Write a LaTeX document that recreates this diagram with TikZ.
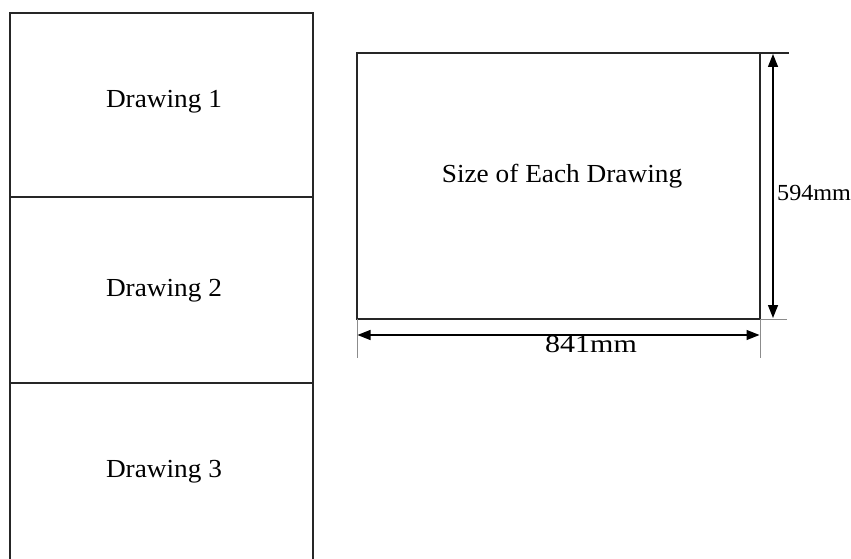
\documentclass[tikz,border=0pt]{standalone}
\usepackage{fontspec}
\setmainfont{Liberation Serif}
\usetikzlibrary{arrows.meta}
\begin{document}
\begin{tikzpicture}[x=1pt,y=1pt,
  frame/.style={draw=black!85,line width=1.4pt},
  extline/.style={draw=black!45,line width=1pt},
  dimarrow/.style={draw=black,line width=1.4pt,{Triangle[length=13pt,width=10pt]}-{Triangle[length=13pt,width=10pt]}},
  lbl/.style={font=\fontsize{26}{29}\selectfont,anchor=base,inner sep=0pt,xscale=1.05},
  dimlbl/.style={font=\fontsize{23}{26}\selectfont,anchor=base,inner sep=0pt}]
\useasboundingbox (0,0) rectangle (851,558);
% left stack of drawings
\draw[frame] (10,545) rectangle (313,361);
\draw[frame] (10,361) rectangle (313,175);
\draw[frame] (10,175) rectangle (313,-10);
\node[lbl] (d1) at (164,450) {Drawing 1};
\node[lbl] (d2) at (164,262) {Drawing 2};
\node[lbl] (d3) at (164,81) {Drawing 3};
% size sheet
\draw[frame] (357,505) rectangle (760,239);
\node[lbl] (size) at (562,375) {Size of Each Drawing};
% extension lines
\coordinate (tl) at (760,505);
\coordinate (te) at (789,505);
\coordinate (bl) at (760,239);
\coordinate (be) at (787,239);
\coordinate (lx) at (357,239);
\coordinate (lxe) at (357,200);
\coordinate (rxe) at (760,200);
\draw[frame] (tl) -- (te);
\draw[extline] (bl) -- (be);
\draw[extline] (lx) -- (lxe);
\draw[extline] (bl) -- (rxe);
% dimension arrows
\coordinate (vt) at (773,504);
\coordinate (vb) at (773,240);
\coordinate (hl) at (357.5,223);
\coordinate (hr) at (759.5,223);
\draw[dimarrow] (vt) -- (vb);
\draw[dimarrow] (hl) -- (hr);
\node[dimlbl,anchor=base west,xscale=1.05] (h) at (777,358) {594mm};
\node[dimlbl,font=\fontsize{25}{28}\selectfont,xscale=1.2] (w) at (591,206) {841mm};
\end{tikzpicture}
\end{document}
